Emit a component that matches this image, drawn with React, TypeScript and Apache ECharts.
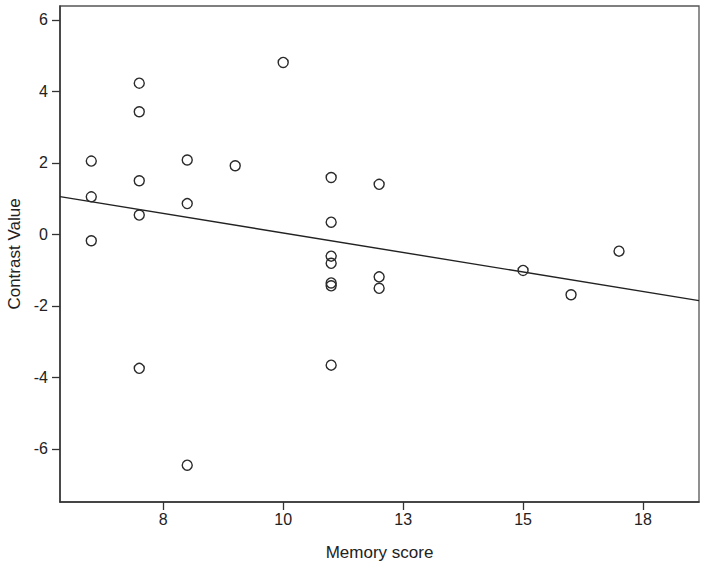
import React, { useEffect, useRef } from "react";
import * as echarts from "echarts";

// Data
const memoryScores = [6, 6, 6, 7, 7, 7, 7, 7, 8, 8, 8, 9, 10, 11, 11, 11, 11, 11, 11, 11, 12, 12, 12, 15, 16, 17];
const contrastValues = [2.05, 1.05, -0.18, 4.23, 3.43, 1.5, 0.54, -3.75, 2.08, 0.86, -6.46, 1.92, 4.81, 1.59, 0.34, -0.61, -0.81, -1.36, -1.44, -3.66, 1.4, -1.19, -1.51, -1.01, -1.69, -0.47];

const xTickValues = [7.5, 10, 12.5, 15, 17.5];
const xTickLabels = ["8", "10", "13", "15", "18"];
const yTickValues = [-6, -4, -2, 0, 2, 4, 6];
const yTickLabels = ["-6", "-4", "-2", "0", "2", "4", "6"];

const xMin = 5.348;
const xMax = 18.667;
const yMin = -7.49;
const yMax = 6.39;

function fitLine(xs: number[], ys: number[]) {
  const n = xs.length;
  const mx = xs.reduce((s, v) => s + v, 0) / n;
  const my = ys.reduce((s, v) => s + v, 0) / n;
  let sxy = 0;
  let sxx = 0;
  for (let i = 0; i < n; i++) {
    sxy += (xs[i] - mx) * (ys[i] - my);
    sxx += (xs[i] - mx) * (xs[i] - mx);
  }
  const b = sxy / sxx;
  const a = my - b * mx;
  return { a, b };
}

export default function App() {
  const ref = useRef<HTMLDivElement>(null);

  useEffect(() => {
    if (!ref.current) return;
    const chart = echarts.init(ref.current, undefined, { renderer: "svg" });
    const { a, b } = fitLine(memoryScores, contrastValues);
    const points = memoryScores.map((x, i) => [x, contrastValues[i]]);
    const font = "'Liberation Sans', Arial, sans-serif";
    const axisColor = "#333";

    chart.setOption({
      animation: false,
      backgroundColor: "#fff",
      grid: {
        left: 60,
        top: 6,
        right: 7,
        bottom: 64,
        containLabel: false,
        outerBoundsMode: "none",
        show: true,
        borderColor: "#555",
        borderWidth: 1.3,
      },
      xAxis: {
        type: "value",
        min: xMin,
        max: xMax,
        name: "Memory score",
        nameLocation: "middle",
        nameGap: 42,
        nameTextStyle: { fontFamily: font, fontSize: 17, color: "#222" },
        axisLine: { show: true, onZero: false, lineStyle: { color: axisColor, width: 1.5 } },
        axisTick: {
          show: true,
          length: 8,
          customValues: xTickValues,
          lineStyle: { color: axisColor, width: 1.3 },
        },
        axisLabel: {
          customValues: xTickValues,
          margin: 9,
          fontFamily: font,
          fontSize: 16,
          color: "#222",
          formatter: (v: number) => {
            const idx = xTickValues.findIndex((t) => Math.abs(t - v) < 1e-6);
            return idx >= 0 ? xTickLabels[idx] : "";
          },
        },
        splitLine: { show: false },
      },
      yAxis: {
        type: "value",
        min: yMin,
        max: yMax,
        name: "Contrast Value",
        nameLocation: "middle",
        nameRotate: 90,
        nameGap: 33,
        nameTextStyle: { fontFamily: font, fontSize: 17, color: "#222" },
        axisLine: { show: true, onZero: false, lineStyle: { color: axisColor, width: 1.5 } },
        axisTick: {
          show: true,
          length: 8,
          customValues: yTickValues,
          lineStyle: { color: axisColor, width: 1.3 },
        },
        axisLabel: {
          customValues: yTickValues,
          margin: 12,
          fontFamily: font,
          fontSize: 16,
          color: "#222",
          formatter: (v: number) => {
            const idx = yTickValues.findIndex((t) => Math.abs(t - v) < 1e-6);
            return idx >= 0 ? yTickLabels[idx] : "";
          },
        },
        splitLine: { show: false },
      },
      series: [
        {
          type: "line",
          data: [
            [xMin, a + b * xMin],
            [xMax, a + b * xMax],
          ],
          showSymbol: false,
          symbol: "none",
          lineStyle: { color: "#222", width: 1.4 },
          silent: true,
          z: 2,
        },
        {
          type: "scatter",
          data: points,
          symbol: "circle",
          symbolSize: 10,
          itemStyle: {
            color: "rgba(255,255,255,0)",
            borderColor: "#2a2a2a",
            borderWidth: 1.4,
            opacity: 1,
          },
          z: 3,
        },
      ],
    });

    return () => {
      chart.dispose();
    };
  }, []);

  return (
    <div
      ref={ref}
      style={{ position: "absolute", left: 0, top: 0, width: 706, height: 566 }}
    />
  );
}
